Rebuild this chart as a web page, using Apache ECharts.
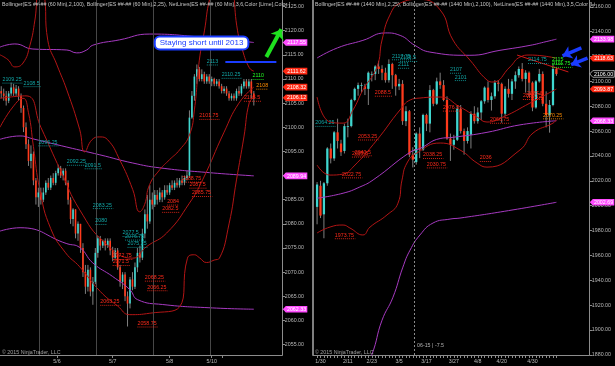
<!DOCTYPE html>
<html><head><meta charset="utf-8">
<script src="https://cdn.jsdelivr.net/npm/echarts@6.0.0/dist/echarts.min.js"></script>
<style>html,body{margin:0;padding:0;background:#000}#c{width:615px;height:366px}</style>
</head><body><div id="c"></div>
<script>
// ---------------- DATA ----------------
const leftHeader = 'Bollinger(ES ##-## (60 Min),2,100), Bollinger(ES ##-## (60 Min),2,25), NetLines(ES ##-## (60 Min),3,6,Color [Lime],Color [';
const rightHeader = 'Bollinger(ES ##-## (1440 Min),2,25), Bollinger(ES ##-## (1440 Min),2,100), NetLines(ES ##-## (1440 Min),3,5,Color [Li';
const copyright = '\u00a9 2015 NinjaTrader, LLC';
const noteText = 'Staying short until 2013';

// 60-min bars [open, close, low, high]
const leftCandles = [
 [2107.5,2107,2106,2108.5],[2107,2106.5,2105.5,2108],[2106.5,2105.5,2104.5,2107.5],[2105.5,2107,2105,2107.5],
 [2107,2108.25,2106.5,2109.25],[2108.25,2107,2106.5,2109],[2107,2108,2106.5,2108.75],[2108,2106.5,2105.5,2108.5],
 [2106.5,2104,2103,2107],[2104,2100,2099,2104.5],[2100,2096.5,2095.5,2101],[2096.5,2093,2092,2097.5],
 [2093,2094.5,2091.5,2096.25],[2094.5,2089,2088,2095],[2089,2085.5,2084,2089.5],[2085.5,2086.5,2083.5,2087.5],
 [2086.5,2085,2084,2087.5],[2085,2086.5,2084.5,2087.5],[2086.5,2088.5,2086,2089],[2088.5,2087.5,2087,2089.5],
 [2087.5,2089.5,2087,2090],[2089.5,2088.5,2088,2090.5],[2088.5,2090.5,2088,2091],[2090.5,2091.5,2090,2092.25],
 [2091.5,2090,2089.5,2092],[2090,2091,2089,2091.5],[2091,2088.5,2088,2091.5],[2088.5,2085,2084,2089],
 [2085,2081,2080,2085.5],[2081,2083,2079.5,2083.25],[2083,2078,2077,2083],[2078,2080,2076.5,2080.5],
 [2080,2075,2074,2080],[2075,2070,2069,2076],[2070,2067,2065.5,2071.5],[2067,2070.5,2066,2071.5],
 [2070.5,2066,2065,2071],[2066,2068,2063.25,2069],[2068,2074,2067.5,2075],
 [2074,2077,2073,2077.5],[2077,2075.5,2074.5,2077.5],[2075.5,2076.5,2075,2076.75],[2076.5,2075.5,2074.5,2077],
 [2075.5,2076.5,2075,2077],[2076.5,2074.5,2073.5,2077],[2074.5,2073,2072.25,2075.25],[2073,2074.5,2072.75,2075],
 [2074.5,2071,2070.5,2075],[2071,2068,2067,2071.5],[2068,2069.5,2066.5,2070],[2069.5,2065,2064,2070],
 [2065,2063.5,2058.75,2066],[2063.5,2068.5,2062.5,2069],[2068.5,2067,2066.25,2070],[2067,2071,2066.5,2072],
 [2071,2074,2070,2075],[2074,2073,2072,2075.5],[2073,2078,2072.5,2079],[2078,2082,2077,2083],
 [2082,2080.5,2079,2086],[2080.5,2085,2080,2088],[2085,2084,2083,2086.5],
 [2084,2086,2083.5,2087],[2086,2085,2084,2087],[2085,2086.5,2084.5,2087.5],[2086.5,2085.5,2084.5,2087],
 [2085.5,2087,2085,2088],[2087,2086.5,2086,2088],[2086.5,2088,2086,2088.5],[2088,2087.5,2087,2089],
 [2087.5,2088.5,2087,2089],[2088.5,2088,2087.5,2089.5],[2088,2089,2087.5,2089.5],[2089,2088.5,2088,2090],
 [2088.5,2089.5,2088,2090],[2089.5,2090,2089,2091],[2090,2102,2089.5,2103.5],[2102,2106.5,2101.75,2107.5],
 [2106.5,2110.5,2105.5,2111],[2110.5,2112,2109,2113],[2112,2110,2109.5,2112.5],[2110,2111,2109.5,2112],
 [2111,2109.5,2109,2111.5],[2109.5,2110.5,2109,2111],[2110.5,2109.5,2109,2111],
 [2109.5,2110,2108.5,2110.5],[2110,2109,2108.5,2110.25],[2109,2109.5,2108.5,2110],[2109.5,2108.5,2108,2110],
 [2108.5,2107.5,2107,2109],[2107.5,2108,2107,2108.5],[2108,2107,2106.5,2108.5],[2107,2106,2105.5,2107.5],
 [2106,2106.5,2105.5,2107],[2106.5,2106,2105.5,2107],[2106,2107.5,2105.5,2108],[2107.5,2107,2106.5,2108.5],
 [2107,2108.5,2106.5,2109],[2108.5,2109.5,2108,2110],[2109.5,2108.5,2108,2110],[2108.5,2109.5,2108,2110],
 [2109.5,2107,2106,2110],[2107,2106,2104.5,2107.5]
];
const leftSessionBreaks = [15.5, 38.5, 61.5, 84.5];
const leftDateTicks = [[22.5,'5/6'],[45,'5/7'],[68,'5/8'],[85,'5/10'],[89.3,'']];
const leftYTicks = [2055,2060,2065,2070,2075,2080,2085,2090,2095,2100,2105,2110,2115,2120,2125];
// bands: [bar, price]
const leftBB100Upper = [[-0.5,2116.6],[5.5,2117.25],[12.8,2116.2],[26.5,2116],[30.5,2115.4],[34.5,2116],[37,2117],[47.8,2118.1],[60,2119.3],[80,2118.7],[102,2117.55]];
const leftBB100Mid = [[-0.5,2097.5],[7.6,2098.2],[12.8,2097.6],[26.5,2095.9],[39.8,2094.3],[53.1,2092.6],[64,2091.6],[84.1,2090.6],[102,2089.94]];
const leftBB100Lower = [[-0.5,2078.5],[7.6,2079.2],[26.5,2075.9],[31.7,2075.1],[37,2071.9],[45,2069.1],[51.9,2066.4],[55.1,2064.3],[65.2,2063.3],[85.3,2062.6],[102,2062.33]];
const leftBB25Upper = [[-0.5,2115],[2.7,2114],[5.5,2112.5],[8.8,2113.3],[11.6,2117],[13.6,2122.2],[15.4,2129],[17.2,2128],[18.8,2118],[22.5,2112.9],[26.5,2107.7],[31.7,2099.5],[33.7,2094.9],[36.6,2097.4],[39.8,2098],[43,2097.4],[47.8,2093.3],[53.1,2087.1],[55.9,2082.5],[57.9,2084],[59.9,2088.1],[64,2091.2],[68,2093.3],[72,2095.3],[76,2098.4],[78,2103.6],[80,2113.9],[82.1,2120.1],[84.1,2126.4],[88.1,2133],[92.1,2132],[95.4,2120.1],[97.4,2116],[100.2,2112.3],[102,2111.62]];
const leftBB25Mid = [[-0.5,2106],[10,2106.5],[16,2100],[24,2091],[31.7,2082.9],[42,2076],[53.1,2072.9],[58.7,2075.3],[66.8,2078.1],[76,2084.3],[81.3,2089.1],[90,2099],[96,2105],[102,2108.32]];
const leftBB25Lower = [[-0.5,2100],[4.7,2104.2],[8.8,2106],[11,2103],[13,2096],[15.6,2087],[20,2079],[26,2074],[31.7,2071.1],[40,2066],[47,2063],[51.9,2061.2],[60,2061.5],[72,2062.8],[75.2,2072.9],[78,2073.6],[80,2073],[82.9,2072],[86,2072.5],[88.1,2072.9],[92,2080],[95,2089.1],[98,2098],[100.2,2105.2],[102,2106.12]];
const leftTags = [[2117.55,'bb100'],[2111.62,'bb25'],[2108.32,'bb25'],[2106.12,'bb25'],[2089.94,'bb100'],[2062.33,'bb100']];
// NetLines levels: [bar, price, kind]
const leftNetLines = [
 [0.5,2109.25,'hi'],[9,2108.5,'hi'],[15,2096.25,'hi'],[26.5,2092.25,'hi'],[33.7,2091.5,'hi'],
 [37,2083.25,'hi'],[38,2080,'hi'],[49,2077.5,'hi'],[50,2076.75,'hi'],[51,2075.25,'hi'],
 [45,2072.75,'lo'],[45,2071.5,'lo'],[40,2063.25,'lo'],[55,2058.75,'lo'],[58,2068.25,'lo'],[59,2066.25,'lo'],
 [65,2082.5,'lo'],[67,2084,'lo'],[73,2088.75,'lo'],[76,2087.5,'lo'],[77,2085.75,'lo'],[80,2101.75,'lo'],
 [83,2113,'hi'],[89,2110.25,'hi'],[98,2105.5,'lo'],[101.5,2110,'now'],[103,2108,'mid']
];
const leftNoteLevel = 2113.5;

// daily bars [open, close, low, high], first bar = 1/29
const rightFirstBar = -1;
const rightCandles = [
 [1999,2017,1985,2019],[2016,1992,1990,2020],[1993,2018,1973.75,2019],[2018,2046,2016,2047],
 [2046,2038,2034,2050],[2038,2059,2036,2060],[2059,2052,2046,2070],[2050,2043,2040,2053],
 [2044,2064,2042,2066],[2064,2064,2055,2070],[2064,2085,2063,2086],[2085,2094,2084,2095],
 [2094,2097,2088.5,2099],[2097,2097,2091,2099],[2096,2094,2089,2098],[2094,2107,2081,2108],
 [2106,2106,2100,2108],[2106,2112,2101,2113],[2112,2110,2106,2116.5],[2110,2107,2101,2113],
 [2107,2101,2099,2111],[2101,2114,2099,2117.75],[2114,2105,2094,2115],[2105,2096,2088.5,2106],
 [2096,2098,2093,2102],[2098,2068,2065,2101],[2068,2076,2064,2080],[2076,2041,2039,2077],
 [2041,2037,2030.75,2047],[2035,2058,2033,2059],[2058,2045,2038.25,2063],[2045,2073,2044,2074],
 [2073,2066,2060,2074],[2066,2093,2059,2097],[2093,2082,2080,2094],[2082,2100,2081,2103],
 [2100,2097,2094,2107],[2097,2085,2084,2101],[2085,2054,2053,2088],[2054,2049,2036,2058],
 [2049,2053,2045,2057],[2053,2078,2052,2080],[2078,2060,2058,2081],[2060,2052,2041,2062],
 [2052,2060,2050,2063],[2057,2074,2046,2076],[2074,2068,2066,2080],[2068,2075,2066,2079],
 [2075,2084,2069,2085],[2084,2095,2082,2096],[2095,2085,2083,2100],[2085,2088,2076.5,2091],
 [2088,2099,2086,2101],[2099,2098,2092,2101],[2098,2074,2066.75,2099],[2074,2094,2072,2096],
 [2094,2090,2087,2102],[2090,2100,2085,2102],[2100,2105,2094,2108],[2105,2110,2103,2112],
 [2110,2102,2100,2114.75],[2102,2107,2091,2109],[2107,2099,2087.5,2108],[2099,2079,2076,2100],
 [2079,2100,2078,2101],[2100,2106,2099,2110],[2106,2082,2080,2108],[2082,2073,2063,2092],
 [2073,2081,2058.75,2085],[2081,2110,2080,2113.25],[2110,2106,2104.5,2111]
];
const rightDateTicks = [[0,'1/30'],[8,'2/11'],[15,'2/23'],[23,'3/5'],[31,'3/17'],[39,'3/27'],[46,'4/8'],[53,'4/20'],[62,'4/30']];
const rightYTicks = [1880,1900,1920,1940,1960,1980,2000,2020,2040,2060,2080,2100,2120,2140,2160];
const rightBB100Upper = [[-1,2118.8],[5,2127],[12.4,2133],[19,2139],[23.3,2137],[27.6,2129],[32,2123.6],[43.7,2121],[52.5,2125],[61.3,2129],[66,2132],[69,2133.98]];
const rightBB100Mid = [[-1,2006],[6.6,2010],[11.5,2015],[15.4,2020.7],[26.2,2043],[29.1,2046],[35,2054],[38.75,2055],[48.7,2059],[58.35,2065],[69,2068.33]];
const rightBB100Lower = [[10,1850],[15,1880],[18,1907.8],[21.2,1926.3],[24.1,1950.5],[26.2,1964.2],[29.1,1976.4],[32.9,1986],[37.9,1989.2],[40.8,1990],[55,1996],[69,2002.69]];
const rightBB25Upper = [[-1,2087.4],[2.8,2067.3],[6.6,2066.4],[9.5,2077],[12.4,2093],[16.5,2111.6],[18,2133.3],[20.3,2153.4],[23.3,2163],[29,2166],[35,2157.5],[38.75,2133.3],[43.7,2117.2],[48.7,2101.1],[50.45,2099.5],[55.4,2111.6],[58.35,2119.6],[61.3,2121.2],[69,2118.63]];
const rightBB25Mid = [[-1,2032.7],[2.8,2024.6],[6.6,2025.4],[9.5,2031],[16.5,2052.8],[23.25,2077],[26.2,2085],[29.1,2086.6],[35,2087.4],[40.8,2079.4],[45.8,2071.3],[48.7,2067.3],[53.4,2071.3],[61.3,2082.6],[69,2093.87]];
const rightBB25Lower = [[-1,1978],[2.8,1982.8],[6.6,1984.4],[8.6,1982],[12.4,1976.4],[14.5,1982.8],[19.45,1992.5],[22.67,2002],[23.84,2020.6],[25.3,2034.3],[28.2,2042.4],[35,2050.4],[40.8,2044.8],[45.8,2034.3],[48.7,2031],[58.35,2044.8],[62.15,2058.4],[68,2066.4],[69,2069.1]];
const rightTrendLine = [[57.5,2121.2],[72.5,2107.6]];
const rightTags = [[2133.98,'bb100'],[2118.63,'bb25'],[2106.00,'last'],[2093.87,'bb25'],[2068.33,'bb100'],[2002.69,'bb100']];
const rightNetLines = [
 [-1.5,2064.25,'hi'],[20.9,2117.75,'hi'],[23.3,2116.5,'hi'],[22.7,2111,'hi'],[37.9,2107,'hi'],[39.3,2101,'hi'],[60.7,2114.75,'hi'],
 [4.2,1973.75,'lo'],[6.3,2022.75,'lo'],[11,2053.25,'lo'],[10,2040.5,'lo'],[9.2,2039.5,'lo'],[15.9,2088.5,'lo'],
 [30,2038.25,'lo'],[31.1,2030.75,'lo'],[35.8,2076.5,'lo'],[46.6,2036,'lo'],[49.6,2066.75,'lo'],
 [60.4,2087.5,'lo'],[59.2,2085.75,'lo'],[65.1,2070.25,'mid'],[67.7,2115,'now'],[67.7,2111.75,'now']
];
const rightRollover = [27.5, '06-15 | -7.5'];

// ---------------- STYLE / LAYOUT ----------------
const FONT = '"Liberation Sans", Arial, sans-serif';
const FS = 5.3;
const C = {
  up:'#3fd6cf', down:'#ff3a1c', wick:'#a0a0a0', purple:'#a63ac0', red:'#b21515',
  axis:'#8c8c8c', text:'#b8b8b8', grid:'#474747', blue:'#1a3cff', green:'#1fe01f'
};
const NET_KINDS = ['hi','lo','now','mid'];
const NET_COLORS = ['#11a8a8','#ff2a1a','#22ff22','#ff8c00'];
const TAG_KINDS = ['bb100','bb25','last'];
const TAG_STYLE = [
  {bg:'#ff4cff', fg:'#ffffff', border:null},
  {bg:'#ff2a14', fg:'#ffffff', border:null},
  {bg:'#000000', fg:'#ffffff', border:'#c8c8c8'}
];
const L = {left:0, top:0, width:282.3, height:355, xmin:-0.5, xmax:113.5, ymin:2052.85, ymax:2126.35};
const R = {left:313, top:0, width:276.3, height:355, xmin:-2.19, xmax:78.62, ymin:1879.8, ymax:2165.5};

// ---------------- RENDERERS ----------------
function candleRender(params, api){
  const k=api.value(0), o=api.value(1), c=api.value(2), l=api.value(3), h=api.value(4);
  const po=api.coord([k,o]), pc=api.coord([k,c]), pl=api.coord([k,l]), ph=api.coord([k,h]);
  const bw=Math.max(1.2, api.size([1,0])[0]*0.66);
  const x=po[0];
  const top=Math.min(po[1],pc[1]), bot=Math.max(po[1],pc[1]);
  return {type:'group', children:[
    {type:'line', shape:{x1:x,y1:ph[1],x2:x,y2:pl[1]}, style:{stroke:C.wick,lineWidth:0.8}},
    {type:'rect', shape:{x:x-bw/2,y:top,width:bw,height:Math.max(bot-top,0.8)}, style:{fill:c>=o?C.up:C.down}}
  ]};
}
function netRender(params, api){
  const k=api.value(0), p=api.value(1), ci=api.value(2);
  const pt=api.coord([k,p]);
  const txt=String(p);
  const col=NET_COLORS[ci];
  const w=txt.length*FS*0.55;
  return {type:'group', children:[
    {type:'text', x:pt[0], y:pt[1]-0.6, style:{text:txt, fill:col, font:FS+'px '+FONT, align:'left', verticalAlign:'bottom', textAlign:'left', textVerticalAlign:'bottom'}},
    {type:'line', shape:{x1:pt[0],y1:pt[1]+0.5,x2:pt[0]+w,y2:pt[1]+0.5}, style:{stroke:col,lineWidth:0.8,lineDash:[1,1]}}
  ]};
}
function tagRender(params, api){
  const p=api.value(1), ci=api.value(2);
  const pt=api.coord([api.value(0),p]);
  const x=pt[0]+0.5, y=pt[1];
  const st=TAG_STYLE[ci];
  const w=21.5, h=6.6, a=3;
  return {type:'group', children:[
    {type:'polygon', shape:{points:[[x,y],[x+a,y-h/2],[x+a+w,y-h/2],[x+a+w,y+h/2],[x+a,y+h/2]]},
      style:{fill:st.bg, stroke:st.border||st.bg, lineWidth:st.border?0.8:0}},
    {type:'text', x:x+a+w/2, y:y+0.3, style:{text:p.toFixed(2), fill:st.fg, font:FS+'px '+FONT, align:'center', verticalAlign:'middle', textAlign:'center', textVerticalAlign:'middle'}}
  ]};
}

function bandSeries(data, color, xi, extra){
  return Object.assign({type:'line', xAxisIndex:xi, yAxisIndex:xi, data:data, smooth:0.5, showSymbol:false, symbol:'none',
    lineStyle:{color:color, width:1}, silent:true, z:4}, extra||{});
}
function labelFor(list){
  return function(v){ for(const d of list){ if(Math.abs(d[0]-v)<0.01) return d[1]; } return ''; };
}
function yAxisCfg(gi, b, ticks){
  return {gridIndex:gi, type:'value', position:'right', min:b.ymin, max:b.ymax,
    axisLine:{show:true, onZero:false, lineStyle:{color:C.axis, width:1}},
    axisTick:{show:true, customValues:ticks, length:3, lineStyle:{color:C.axis}},
    axisLabel:{show:true, customValues:ticks, formatter:v=>v.toFixed(2), color:C.text, fontSize:FS, fontFamily:FONT, margin:2.5},
    splitLine:{show:false}};
}

const leftBars = leftCandles.map((d,i)=>[i].concat(d));
const rightBars = rightCandles.map((d,i)=>[i+rightFirstBar].concat(d));
const rightBarTicks = rightCandles.map((d,i)=>i+rightFirstBar);

const option = {
  backgroundColor:'#000',
  animation:false,
  textStyle:{fontFamily:FONT},
  title:[
    {text:leftHeader, left:2, top:2, padding:0, textStyle:{color:'#c4c4c4', fontSize:FS, fontWeight:'normal', fontFamily:FONT}},
    {text:rightHeader, left:315, top:2, padding:0, textStyle:{color:'#c4c4c4', fontSize:FS, fontWeight:'normal', fontFamily:FONT}},
    {text:copyright, left:2, top:350, padding:0, textStyle:{color:'#a0a0a0', fontSize:FS, fontWeight:'normal', fontFamily:FONT}},
    {text:copyright, left:315, top:350, padding:0, textStyle:{color:'#a0a0a0', fontSize:FS, fontWeight:'normal', fontFamily:FONT}}
  ],
  grid:[
    {left:L.left, top:L.top, width:L.width, height:L.height, containLabel:false},
    {left:R.left, top:R.top, width:R.width, height:R.height, containLabel:false}
  ],
  xAxis:[
    {gridIndex:0, type:'value', min:L.xmin, max:L.xmax, position:'bottom',
      axisLine:{show:true, onZero:false, lineStyle:{color:C.axis}},
      axisTick:{show:true, customValues:leftDateTicks.map(d=>d[0]), length:3, lineStyle:{color:C.axis}},
      axisLabel:{show:true, customValues:leftDateTicks.filter(d=>d[1]).map(d=>d[0]), formatter:labelFor(leftDateTicks), color:C.text, fontSize:FS, fontFamily:FONT, margin:4},
      splitLine:{show:false}},
    {gridIndex:1, type:'value', min:R.xmin, max:R.xmax, position:'bottom',
      axisLine:{show:true, onZero:false, lineStyle:{color:C.axis}},
      axisTick:{show:true, customValues:rightBarTicks, length:3, lineStyle:{color:C.axis}},
      axisLabel:{show:true, customValues:rightDateTicks.map(d=>d[0]), formatter:labelFor(rightDateTicks), color:C.text, fontSize:FS, fontFamily:FONT, margin:4},
      splitLine:{show:false}}
  ],
  yAxis:[
    yAxisCfg(0, L, leftYTicks),
    yAxisCfg(1, R, rightYTicks),
    {gridIndex:1, type:'value', position:'left', min:R.ymin, max:R.ymax,
      axisLine:{show:true, onZero:false, lineStyle:{color:'#a8a8a8', width:1.5}},
      axisTick:{show:false}, axisLabel:{show:false}, splitLine:{show:false}}
  ],
  series:[
    // ---- left panel ----
    {type:'custom', name:'leftBars', xAxisIndex:0, yAxisIndex:0, data:leftBars, renderItem:candleRender, encode:{x:0,y:[1,2,3,4]}, z:3, silent:true,
      markLine:{silent:true, symbol:'none', animation:false, label:{show:false},
        lineStyle:{color:C.grid, type:'solid', width:1},
        data:leftSessionBreaks.map(v=>({xAxis:v}))}},
    bandSeries(leftBB100Upper, C.purple, 0),
    bandSeries(leftBB100Mid, C.purple, 0),
    bandSeries(leftBB100Lower, C.purple, 0),
    bandSeries(leftBB25Upper, C.red, 0),
    bandSeries(leftBB25Mid, C.red, 0),
    bandSeries(leftBB25Lower, C.red, 0, {
      markLine:{silent:true, animation:false, label:{show:false}, symbol:['none','none'],
        data:[
          [{coord:[90.5,leftNoteLevel], lineStyle:{color:C.blue,width:2,type:'solid'}},{coord:[111.1,leftNoteLevel]}],
          [{coord:[107.05,2114.56], symbol:'none', lineStyle:{color:C.green,width:4,type:'solid'}},{coord:[113.1,2120.3], symbol:'arrow', symbolSize:[11,9]}]
        ]},
      markPoint:{silent:true, animation:false, data:[{coord:[80.9,2117.46], symbol:'rect', symbolSize:1, itemStyle:{color:'rgba(0,0,0,0)'},
        label:{show:true, position:'inside', formatter:noteText, backgroundColor:'#ffffff', borderColor:C.blue, borderWidth:2, borderRadius:4,
          padding:[2,4,1,4], color:C.blue, fontSize:8, fontFamily:FONT}}]}
    }),
    {type:'custom', name:'leftNet', xAxisIndex:0, yAxisIndex:0, data:leftNetLines.map(d=>[d[0],d[1],NET_KINDS.indexOf(d[2])]), renderItem:netRender, z:5, silent:true},
    {type:'custom', name:'leftTags', xAxisIndex:0, yAxisIndex:0, data:leftTags.map(d=>[L.xmax,d[0],TAG_KINDS.indexOf(d[1])]), renderItem:tagRender, z:10, silent:true},
    // ---- right panel ----
    {type:'custom', name:'rightBars', xAxisIndex:1, yAxisIndex:1, data:rightBars, renderItem:candleRender, encode:{x:0,y:[1,2,3,4]}, z:3, silent:true,
      markLine:{silent:true, symbol:'none', animation:false, label:{show:false},
        lineStyle:{color:'#8a8a8a', type:[2,2], width:1},
        data:[{xAxis:rightRollover[0]}]},
      markPoint:{silent:true, animation:false, data:[{coord:[rightRollover[0],1887.8], symbol:'rect', symbolSize:1, itemStyle:{color:'rgba(0,0,0,0)'},
        label:{show:true, position:'right', distance:2, formatter:rightRollover[1], color:'#b0b0b0', fontSize:FS, fontFamily:FONT}}]}},
    bandSeries(rightBB100Upper, C.purple, 1),
    bandSeries(rightBB100Mid, C.purple, 1),
    bandSeries(rightBB100Lower, C.purple, 1),
    bandSeries(rightBB25Upper, C.red, 1),
    bandSeries(rightBB25Mid, C.red, 1),
    bandSeries(rightBB25Lower, C.red, 1, {
      markLine:{silent:true, animation:false, label:{show:false}, symbol:['none','none'],
        data:[
          [{coord:rightTrendLine[0], lineStyle:{color:'#d01818',width:1,type:'solid'}},{coord:rightTrendLine[1]}],
          [{coord:[76.3,2126.9], symbol:'none', lineStyle:{color:C.blue,width:3.5,type:'solid'}},{coord:[70.8,2120.6], symbol:'arrow', symbolSize:[10,9]}],
          [{coord:[78.1,2118.8], symbol:'none', lineStyle:{color:C.blue,width:3.5,type:'solid'}},{coord:[73.3,2113.4], symbol:'arrow', symbolSize:[10,9]}]
        ]}
    }),
    {type:'custom', name:'rightNet', xAxisIndex:1, yAxisIndex:1, data:rightNetLines.map(d=>[d[0],d[1],NET_KINDS.indexOf(d[2])]), renderItem:netRender, z:5, silent:true},
    {type:'custom', name:'rightTags', xAxisIndex:1, yAxisIndex:1, data:rightTags.map(d=>[R.xmax,d[0],TAG_KINDS.indexOf(d[1])]), renderItem:tagRender, z:10, silent:true}
  ]
};
const chart = echarts.init(document.getElementById('c'), null, {renderer:'canvas'});
chart.setOption(option);
</script></body></html>
